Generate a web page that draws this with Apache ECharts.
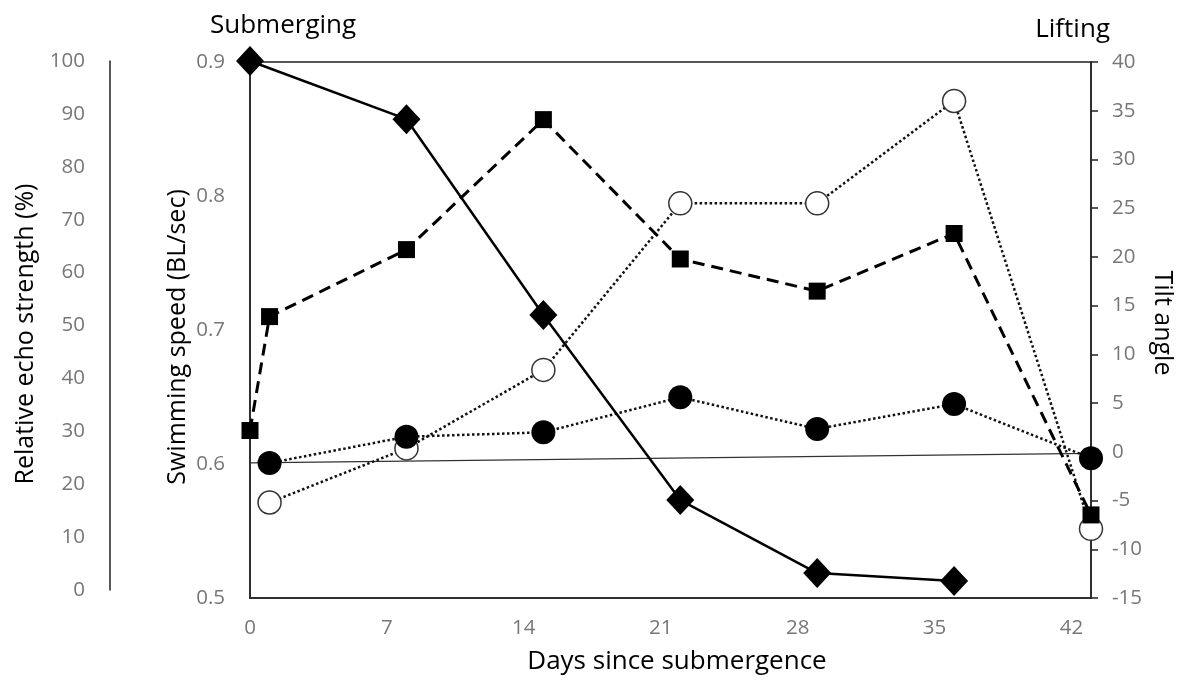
<!DOCTYPE html>
<html>
<head>
<meta charset="utf-8">
<script src="https://cdn.jsdelivr.net/npm/echarts@6/dist/echarts.min.js"></script>
<style>html,body{margin:0;padding:0;background:#fff;}#c{width:1191px;height:682px;}</style>
</head>
<body>
<div id="c"></div>
<script>
// ---- data ----
const echoDays = [0, 8, 15, 22, 29, 36];
const echoStrength = [100, 89, 52, 17, 3.2, 1.7];           // Relative echo strength (%)
const speedDays = [0, 1, 8, 15, 22, 29, 36, 43];
const swimSpeed = [0.625, 0.710, 0.760, 0.857, 0.753, 0.729, 0.772, 0.562]; // BL/sec
const tiltDays = [1, 8, 15, 22, 29, 36, 43];
const tiltFilled = [-1.15, 1.55, 2.0, 5.6, 2.35, 4.9, -0.65];
const tiltOpen = [-5.2, 0.35, 8.4, 25.5, 25.5, 36.0, -7.9];
const refLineDays = [0, 43];
const refLineTilt = [-1.14, -0.15];
const xTicks = [0, 7, 14, 21, 28, 35, 42];

const pair = (xs, ys) => xs.map((x, i) => [x, ys[i]]);
const gray = '#777777';
const font = '"Open Sans", "Noto Sans", sans-serif';
const tickFont = 20.5;

const chart = echarts.init(document.getElementById('c'), null, {renderer: 'canvas'});
chart.setOption({
  animation: false,
  backgroundColor: '#fff',
  textStyle: {fontFamily: font},
  grid: [
    {left: 250, right: 100, top: 62, bottom: 84, show: true, borderColor: '#222', borderWidth: 1.5},
    {left: 250, right: 100, top: 61, bottom: 92, show: false}
  ],
  xAxis: [
    {gridIndex: 0, type: 'value', min: 0, max: 43, interval: 7,
     axisLine: {show: true, onZero: false, lineStyle: {color: '#222', width: 1.5}},
     axisTick: {show: false}, splitLine: {show: false},
     axisLabel: {color: gray, fontSize: tickFont, fontFamily: font, margin: 20,
       formatter: v => xTicks.includes(v) ? String(v) : ''}},
    {gridIndex: 1, type: 'value', min: 0, max: 43, show: false, axisLine: {onZero: false}}
  ],
  yAxis: [
    {gridIndex: 0, type: 'value', position: 'left', min: 0.5, max: 0.9, interval: 0.1,
     axisLine: {show: true, onZero: false, lineStyle: {color: '#222', width: 1.5}},
     axisTick: {show: false}, splitLine: {show: false},
     axisLabel: {color: gray, fontSize: tickFont, fontFamily: font, margin: 25, formatter: v => v.toFixed(1)}},
    {gridIndex: 0, type: 'value', position: 'right', min: -15, max: 40, interval: 5,
     axisLine: {show: true, onZero: false, lineStyle: {color: '#222', width: 1.5}},
     axisTick: {show: true, inside: false, length: 7, lineStyle: {color: '#222', width: 1.5}},
     splitLine: {show: false},
     axisLabel: {color: gray, fontSize: tickFont, fontFamily: font, margin: 21}},
    {gridIndex: 1, type: 'value', position: 'left', offset: 140, min: 0, max: 100, interval: 10,
     axisLine: {show: true, onZero: false, lineStyle: {color: '#222', width: 1.5}},
     axisTick: {show: false}, splitLine: {show: false},
     axisLabel: {color: gray, fontSize: tickFont, fontFamily: font, margin: 25}}
  ],
  series: [
    {type: 'line', xAxisIndex: 0, yAxisIndex: 1, data: pair(refLineDays, refLineTilt),
     symbol: 'none', lineStyle: {color: '#333', width: 1.2}, z: 1},
    {type: 'line', xAxisIndex: 0, yAxisIndex: 1, data: pair(tiltDays, tiltOpen),
     symbol: 'circle', symbolSize: 23,
     itemStyle: {color: '#fff', borderColor: '#333', borderWidth: 1.5},
     lineStyle: {color: '#111', width: 2.5, type: [2.5, 2.5]}, z: 2},
    {type: 'line', xAxisIndex: 0, yAxisIndex: 1, data: pair(tiltDays, tiltFilled),
     symbol: 'circle', symbolSize: 24,
     itemStyle: {color: '#000', borderColor: '#000', borderWidth: 0},
     lineStyle: {color: '#111', width: 2.5, type: [2.5, 2.5]}, z: 3},
    {type: 'line', xAxisIndex: 0, yAxisIndex: 0, data: pair(speedDays, swimSpeed),
     symbol: 'rect', symbolSize: 17,
     itemStyle: {color: '#000'},
     lineStyle: {color: '#000', width: 3, type: [12, 7]}, z: 4},
    {type: 'line', xAxisIndex: 1, yAxisIndex: 2, data: pair(echoDays, echoStrength),
     symbol: 'diamond', symbolSize: [28, 30],
     itemStyle: {color: '#000'},
     lineStyle: {color: '#000', width: 2.5}, z: 5}
  ],
  graphic: [
    {type: 'text', x: 210, y: 26, style: {text: 'Submerging', fill: '#000', font: '26px ' + font, textAlign: 'left', textVerticalAlign: 'middle'}},
    {type: 'text', x: 1110, y: 30, style: {text: 'Lifting', fill: '#000', font: '26px ' + font, textAlign: 'right', textVerticalAlign: 'middle'}},
    {type: 'text', x: 677, y: 662, style: {text: 'Days since submergence', fill: '#000', font: '26px ' + font, textAlign: 'center', textVerticalAlign: 'middle'}},
    {type: 'text', x: 26, y: 334, rotation: Math.PI / 2, style: {text: 'Relative echo strength (%)', fill: '#000', font: '25px ' + font, textAlign: 'center', textVerticalAlign: 'middle'}},
    {type: 'text', x: 178, y: 337, rotation: Math.PI / 2, style: {text: 'Swimming speed (BL/sec)', fill: '#000', font: '25px ' + font, textAlign: 'center', textVerticalAlign: 'middle'}},
    {type: 'text', x: 1162, y: 323, rotation: -Math.PI / 2, style: {text: 'Tilt angle', fill: '#000', font: '25px ' + font, textAlign: 'center', textVerticalAlign: 'middle'}}
  ]
});
</script>
</body>
</html>
